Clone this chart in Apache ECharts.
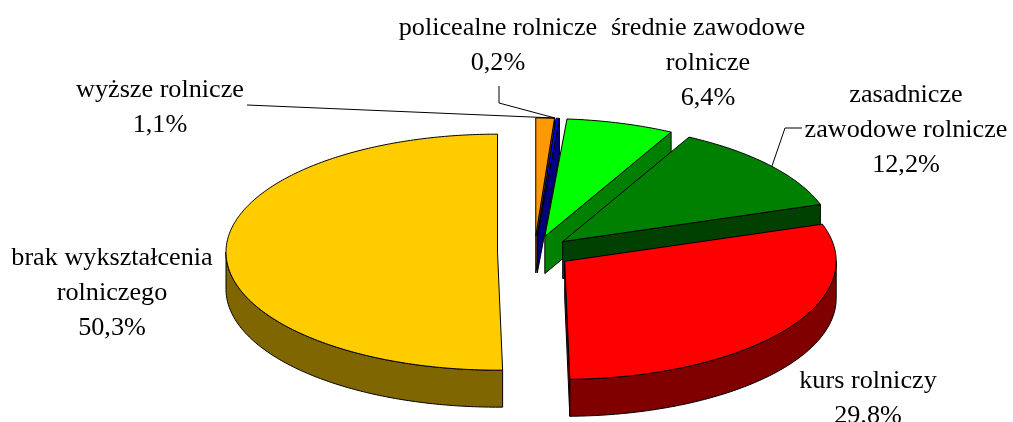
<!DOCTYPE html>
<html><head><meta charset="utf-8">
<style>html,body{margin:0;padding:0;background:#fff;overflow:hidden}#c{width:1013px;height:422px}</style>
<script src="https://cdn.jsdelivr.net/npm/echarts@6/dist/echarts.min.js"></script>
</head><body><div id="c"></div>
<script>
const categories = ['wyższe rolnicze','policealne rolnicze','średnie zawodowe\nrolnicze','zasadnicze\nzawodowe rolnicze','kurs rolniczy','brak wykształcenia\nrolniczego'];
const values = [1.1,0.2,6.4,12.2,29.8,50.3];
const valueLabels = ['1,1%','0,2%','6,4%','12,2%','29.8%','50,3%'];
const topColors = ['#FF9900','#0000FF','#00FF00','#008000','#FF0000','#FFCC00'];
const wallColors = ['#804D00','#000080','#008000','#004000','#800000','#806600'];

// Pie layout (tilted 3D look)
const CX=534.5, CY=252, RX=271.5, RY=118, DEPTH=37, EXPLODE=37;
const total = values.reduce((a,b)=>a+b,0);
const starts=[]; values.reduce((a,v,i)=>{starts[i]=a;return a+v;},0);
const rad=d=>d*Math.PI/180;

function arcPts(cx,cy,a,b){
  const n=Math.max(2,Math.ceil((b-a)/0.75)), p=[];
  for(let i=0;i<=n;i++){const t=rad(a+(b-a)*i/n);p.push([cx+RX*Math.sin(t),cy-RY*Math.cos(t)]);}
  return p;
}
const style=(fill)=>({fill,stroke:'#000',lineWidth:1,lineJoin:'round'});
function renderItem(params,api){
  const v=api.value(0), i=params.dataIndex;
  const a=starts[i]/total*360, b=a+v/total*360, m=(a+b)/2;
  const cx=CX+EXPLODE*Math.sin(rad(m)), cy=CY-EXPLODE*(RY/RX)*Math.cos(rad(m));
  const ch=[], wall=wallColors[i];
  const poly=(points,fill)=>ch.push({type:'polygon',shape:{points},style:style(fill),silent:true});
  const edge=t=>{const e=[cx+RX*Math.sin(rad(t)),cy-RY*Math.cos(rad(t))];
    return [[cx,cy],e,[e[0],e[1]+DEPTH],[cx,cy+DEPTH]];};
  if(Math.sin(rad(a))<0) poly(edge(a),wall);
  if(Math.sin(rad(b))>1e-6) poly(edge(b),wall);
  const wa=Math.max(a,90), wb=Math.min(b,270);
  if(wb>wa){
    const top=arcPts(cx,cy,wa,wb);
    const bot=top.map(p=>[p[0],p[1]+DEPTH]).reverse();
    poly(top.concat(bot),wall);
  }
  poly([[cx,cy]].concat(arcPts(cx,cy,a,b)),topColors[i]);
  return {type:'group',children:ch};
}

// Label placement: [category index, centre x, centre y of first line]
const labelPlaces=[[0,160,90.5],[1,498,28],[2,708,28],[3,906,95.5],[4,868,381.5],[5,112,258.5]];
const LINE_H=35;
const leaderLines=[
  [[247,105],[555,118]],
  [[499,86],[499,103],[555,118]],
  [[802,128],[785,128],[772,166]]
];
const graphic=[];
leaderLines.forEach(points=>graphic.push({type:'polyline',shape:{points},style:{stroke:'#000',lineWidth:1,fill:null},z:10,silent:true}));
labelPlaces.forEach(([i,x,y])=>{
  const text=categories[i]+'\n'+valueLabels[i];
  graphic.push({type:'text',x,y:y-LINE_H/2,z:11,silent:true,style:{
    text,align:'center',verticalAlign:'top',fill:'#000',
    font:'26.2px "Liberation Serif"',lineHeight:LINE_H}});
});

const chart=echarts.init(document.getElementById('c'),null,{renderer:'canvas'});
chart.setOption({
  animation:false,
  backgroundColor:'#fff',
  series:[{type:'custom',coordinateSystem:'none',renderItem,silent:true,clip:false,
    data:values.map(v=>[v])}],
  graphic
});
</script></body></html>
